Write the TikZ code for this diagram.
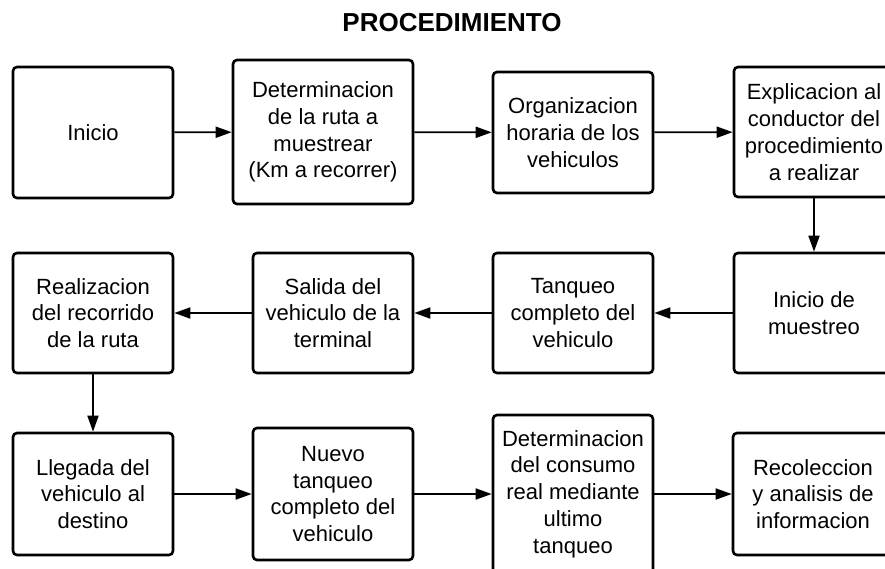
\documentclass[tikz,border=0pt]{standalone}
\usepackage{fontspec}
\setmainfont{Liberation Sans}
\usetikzlibrary{arrows.meta}
\begin{document}
\begin{tikzpicture}[x=1pt,y=-1pt,
  box/.style={draw=black,line width=2.6pt,rounded corners=4pt,fill=white,
    align=center,inner sep=0pt,font=\fontsize{22}{26.8}\selectfont,
    minimum width=160pt},
  conn/.style={line width=1.8pt,-{Triangle[length=16pt,width=11pt]}}]
\useasboundingbox (0,0) rectangle (885,569);
\clip (0,0) rectangle (885,569);
\node[anchor=base,font=\bfseries\fontsize{26}{30}\selectfont] (title) at (452,32) {PROCEDIMIENTO};
% row 1
\node[box,minimum height=131pt] (inicio) at (93,132.5) {Inicio};
\node[box,minimum width=180pt,minimum height=144pt] (det) at (323,132) {Determinacion\\de la ruta a\\muestrear\\(Km a recorrer)};
\node[box,minimum height=121pt] (org) at (573,132.5) {Organizacion\\horaria de los\\vehiculos};
\node[box,minimum height=130pt] (expl) at (814,132) {Explicacion al\\conductor del\\procedimiento\\a realizar};
% row 2
\node[box,minimum height=120pt] (muestreo) at (814,313) {Inicio de\\muestreo};
\node[box,minimum height=120pt] (tanqueo) at (573,313) {Tanqueo\\completo del\\vehiculo};
\node[box,minimum height=120pt] (salida) at (333,313) {Salida del\\vehiculo de la\\terminal};
\node[box,minimum height=120pt] (realiz) at (93,313) {Realizacion\\del recorrido\\de la ruta};
% row 3
\node[box,minimum height=122pt] (llegada) at (93,494) {Llegada del\\vehiculo al\\destino};
\node[box,minimum height=132pt] (nuevo) at (333,494) {Nuevo\\tanqueo\\completo del\\vehiculo};
\node[box,minimum height=158pt] (detcons) at (573,494) {Determinacion\\del consumo\\real mediante\\ultimo\\tanqueo};
\node[box,minimum height=122pt] (recol) at (813,494) {Recoleccion\\y analisis de\\informacion};
% connectors
\draw[conn] (inicio) -- (det);
\draw[conn] (det) -- (org);
\draw[conn] (org) -- (expl);
\draw[conn] (expl) -- (muestreo);
\draw[conn] (muestreo) -- (tanqueo);
\draw[conn] (tanqueo) -- (salida);
\draw[conn] (salida) -- (realiz);
\draw[conn] (realiz) -- (llegada);
\draw[conn] (llegada) -- (nuevo);
\draw[conn] (nuevo) -- (detcons);
\draw[conn] (detcons) -- (recol);
\end{tikzpicture}
\end{document}
